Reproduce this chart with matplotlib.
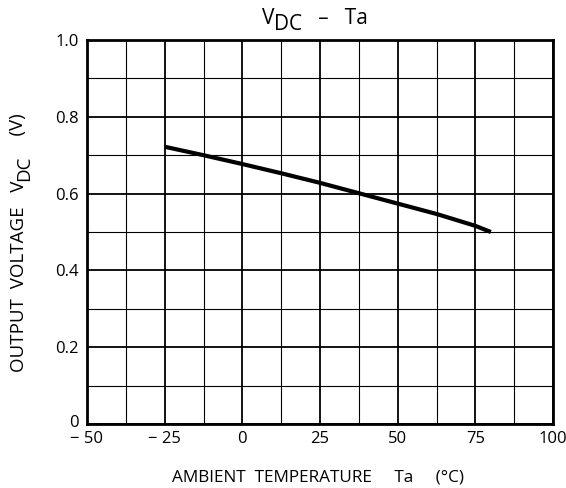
import matplotlib
matplotlib.use("Agg")
import matplotlib.pyplot as plt
import matplotlib.transforms as mtransforms
import numpy as np

plt.rcParams['font.family'] = ['Open Sans', 'DejaVu Sans']

# data
temps = [-25, -12.5, 0, 12.5, 25, 37.5, 50, 62.5, 75, 80]
vdc = [0.722, 0.700, 0.677, 0.653, 0.628, 0.601, 0.574, 0.547, 0.516, 0.500]
xticks = [-50, -25, 0, 25, 50, 75, 100]
xticklabels = ['\u2212 50', '\u2212 25', '0', '25', '50', '75', '100']
yticks = [0, 0.2, 0.4, 0.6, 0.8, 1.0]
yticklabels = ['0', '0.2', '0.4', '0.6', '0.8', '1.0']

W, H = 566, 488
fig = plt.figure(figsize=(W / 100, H / 100), dpi=100)
ax = fig.add_axes([87/W, 1-424/H, (553-87)/W, (424-40)/H])

ax.set_xlim(-50, 100)
ax.set_ylim(0, 1.0)

# grid
for x in np.arange(-50, 100.1, 12.5):
    major = abs(x % 25) < 1e-9
    ax.axvline(x, color='black', lw=1.3 if major else 0.8, zorder=1)
for y in np.arange(0, 1.001, 0.1):
    major = int(round(y * 10)) % 2 == 0
    ax.axhline(y, color='black', lw=1.3 if major else 0.8, zorder=1)

ax.plot(temps, vdc, color='black', lw=3, solid_capstyle='butt', zorder=3)

ax.set_xticks(xticks)
ax.set_xticklabels(xticklabels, fontsize=12)
ax.set_yticks(yticks)
ax.set_yticklabels(yticklabels, fontsize=12)
ax.tick_params(axis='x', length=0, pad=5)
ax.tick_params(axis='y', length=0, pad=6)
# lift the "0" label slightly, as in the reference
zero_lbl = ax.get_yticklabels()[0]
zero_lbl.set_transform(zero_lbl.get_transform() +
                       mtransforms.ScaledTranslation(0, 3/100, fig.dpi_scale_trans))
for s in ax.spines.values():
    s.set_linewidth(2)

renderer = fig.canvas.get_renderer()
ident = mtransforms.IdentityTransform()


def draw_pieces(pieces, cx, cy, rotation=0):
    """pieces: list of (text, fontsize, shift); shift in px (positive = downward in text frame)."""
    objs = []
    total = 0
    for txt, fs, shift in pieces:
        t = fig.text(0, 0, txt, fontsize=fs, transform=ident, rotation=rotation,
                     rotation_mode='anchor', ha='left', va='baseline')
        bb = t.get_window_extent(renderer)
        size = bb.width if rotation == 0 else bb.height
        objs.append((t, size, shift))
        total += size
    pos = -total / 2
    for t, size, shift in objs:
        if rotation == 0:
            t.set_position((cx + pos, cy - shift))
        else:
            t.set_position((cx + shift, cy + pos))
        pos += size


# title (cy is baseline in pixels from bottom)
draw_pieces([('V', 15, 0), ('DC', 15, 6.5), ('   \u2013   Ta', 15, 0)], 315, H - 24)
# x label
draw_pieces([('AMBIENT  TEMPERATURE     Ta     (\u00b0C)', 12.3, 0)], 318, H - 482)
# y label (baseline at x)
draw_pieces([('OUTPUT  VOLTAGE   V', 13.5, 0), ('DC', 13.5, 6), ('    (V)', 13.5, 0)], 23.5, H - 243, rotation=90)

fig.savefig('out.png', dpi=100)
